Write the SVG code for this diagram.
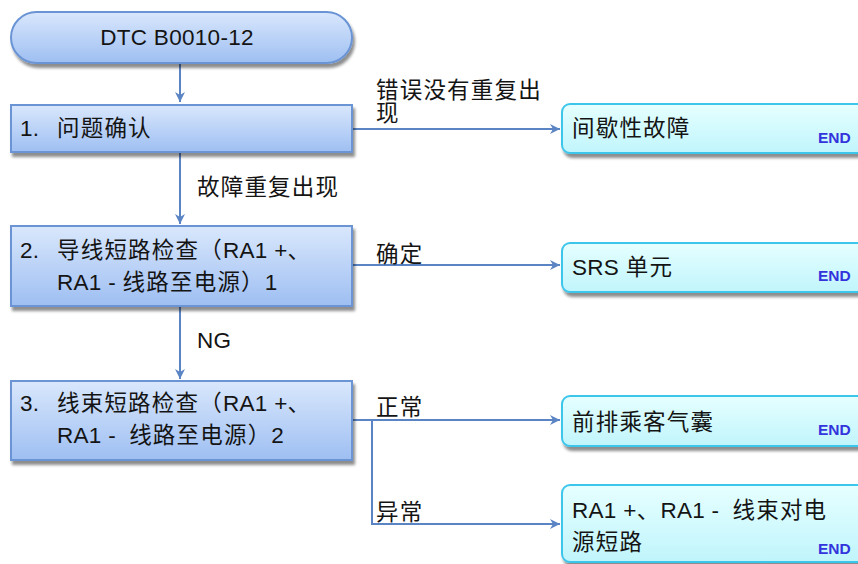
<svg xmlns="http://www.w3.org/2000/svg" width="858" height="564" viewBox="0 0 858 564">
<defs>
<linearGradient id="gb" x1="0" y1="0" x2="0" y2="1">
<stop offset="0" stop-color="#d9e7fc"/>
<stop offset="1" stop-color="#9ebff2"/>
</linearGradient>
<linearGradient id="gc" x1="0" y1="0" x2="0" y2="1">
<stop offset="0" stop-color="#e6ffff"/>
<stop offset="1" stop-color="#c0f5fc"/>
</linearGradient>
<filter id="sh" x="-5%" y="-20%" width="115%" height="150%">
<feGaussianBlur in="SourceAlpha" stdDeviation="1.5"/>
<feOffset dx="2" dy="4" result="o"/>
<feComponentTransfer><feFuncA type="linear" slope="0.45"/></feComponentTransfer>
<feMerge><feMergeNode/><feMergeNode in="SourceGraphic"/></feMerge>
</filter>
<marker id="ar" viewBox="0 0 12 12" refX="11" refY="6" markerWidth="12" markerHeight="12" markerUnits="userSpaceOnUse" orient="auto">
<path d="M1,1 L11,6 L1,11 L4,6 Z" fill="#5b84c4"/>
</marker>
</defs>
<style>
text{font-family:"Liberation Sans","Noto Sans CJK SC",sans-serif;font-size:22.5px;fill:#141414;letter-spacing:0.3px;white-space:pre}
.c{letter-spacing:1.2px}
.blue{fill:url(#gb);stroke:#6a94d4;stroke-width:2}
.cyan{fill:url(#gc);stroke:#3ec6ec;stroke-width:2}
.end{font-family:"Liberation Sans",sans-serif;font-size:15.5px;font-weight:bold;fill:#3434dc;letter-spacing:0}
.ln{fill:none;stroke:#5b84c4;stroke-width:2}
</style>
<g id="connectors">
<path class="ln" d="M180,64 L180,102" marker-end="url(#ar)"/>
<path class="ln" d="M180,153 L180,224" marker-end="url(#ar)"/>
<path class="ln" d="M180,307 L180,379" marker-end="url(#ar)"/>
<path class="ln" d="M352,129 L560,129" marker-end="url(#ar)"/>
<path class="ln" d="M352,265 L560,265" marker-end="url(#ar)"/>
<path class="ln" d="M352,420 L560,420" marker-end="url(#ar)"/>
<path class="ln" d="M372,420 L372,524 L560,524" marker-end="url(#ar)"/>
<text class="c"><tspan x="376" y="98">错误没有重复出</tspan><tspan x="376" y="121">现</tspan></text>
<text class="c" x="197" y="195">故障重复出现</text>
<text class="c" x="376" y="262">确定</text>
<text x="197" y="348">NG</text>
<text class="c" x="376" y="415">正常</text>
<text class="c" x="376" y="520">异常</text>
</g>
<g id="start">
<rect class="blue" x="11" y="12" width="341" height="51" rx="25.5" filter="url(#sh)"/>
<text x="177" y="45" text-anchor="middle">DTC B0010-12</text>
</g>
<g id="step1">
<rect class="blue" x="11" y="105" width="341" height="47" filter="url(#sh)"/>
<text x="20" y="136">1.<tspan class="c" x="57">问题确认</tspan></text>
</g>
<g id="step2">
<rect class="blue" x="11" y="226" width="341" height="80" filter="url(#sh)"/>
<text x="20" y="258">2.<tspan class="c" x="57">导线短路检查（</tspan>RA1 +<tspan class="c">、</tspan></text>
<text x="57" y="290">RA1 - <tspan class="c">线路至电源）</tspan>1</text>
</g>
<g id="step3">
<rect class="blue" x="11" y="381" width="341" height="79" filter="url(#sh)"/>
<text x="20" y="411">3.<tspan class="c" x="57">线束短路检查（</tspan>RA1 +<tspan class="c">、</tspan></text>
<text x="57" y="443">RA1 -  <tspan class="c">线路至电源）</tspan>2</text>
</g>
<g id="end1">
<rect class="cyan" x="562" y="104" width="310" height="49" rx="8" filter="url(#sh)"/>
<text class="c" x="572" y="136">间歇性故障</text>
<text class="end" x="818" y="143">END</text>
</g>
<g id="end2">
<rect class="cyan" x="562" y="243" width="310" height="49" rx="8" filter="url(#sh)"/>
<text x="572" y="275">SRS <tspan class="c">单元</tspan></text>
<text class="end" x="818" y="281">END</text>
</g>
<g id="end3">
<rect class="cyan" x="562" y="396" width="310" height="50" rx="8" filter="url(#sh)"/>
<text class="c" x="572" y="430">前排乘客气囊</text>
<text class="end" x="818" y="435">END</text>
</g>
<g id="end4">
<rect class="cyan" x="562" y="485" width="310" height="77" rx="8" filter="url(#sh)"/>
<text x="572" y="518">RA1 +<tspan class="c">、</tspan>RA1 -  <tspan class="c">线束对电</tspan></text>
<text class="c" x="572" y="550">源短路</text>
<text class="end" x="818" y="554">END</text>
</g>
</svg>
